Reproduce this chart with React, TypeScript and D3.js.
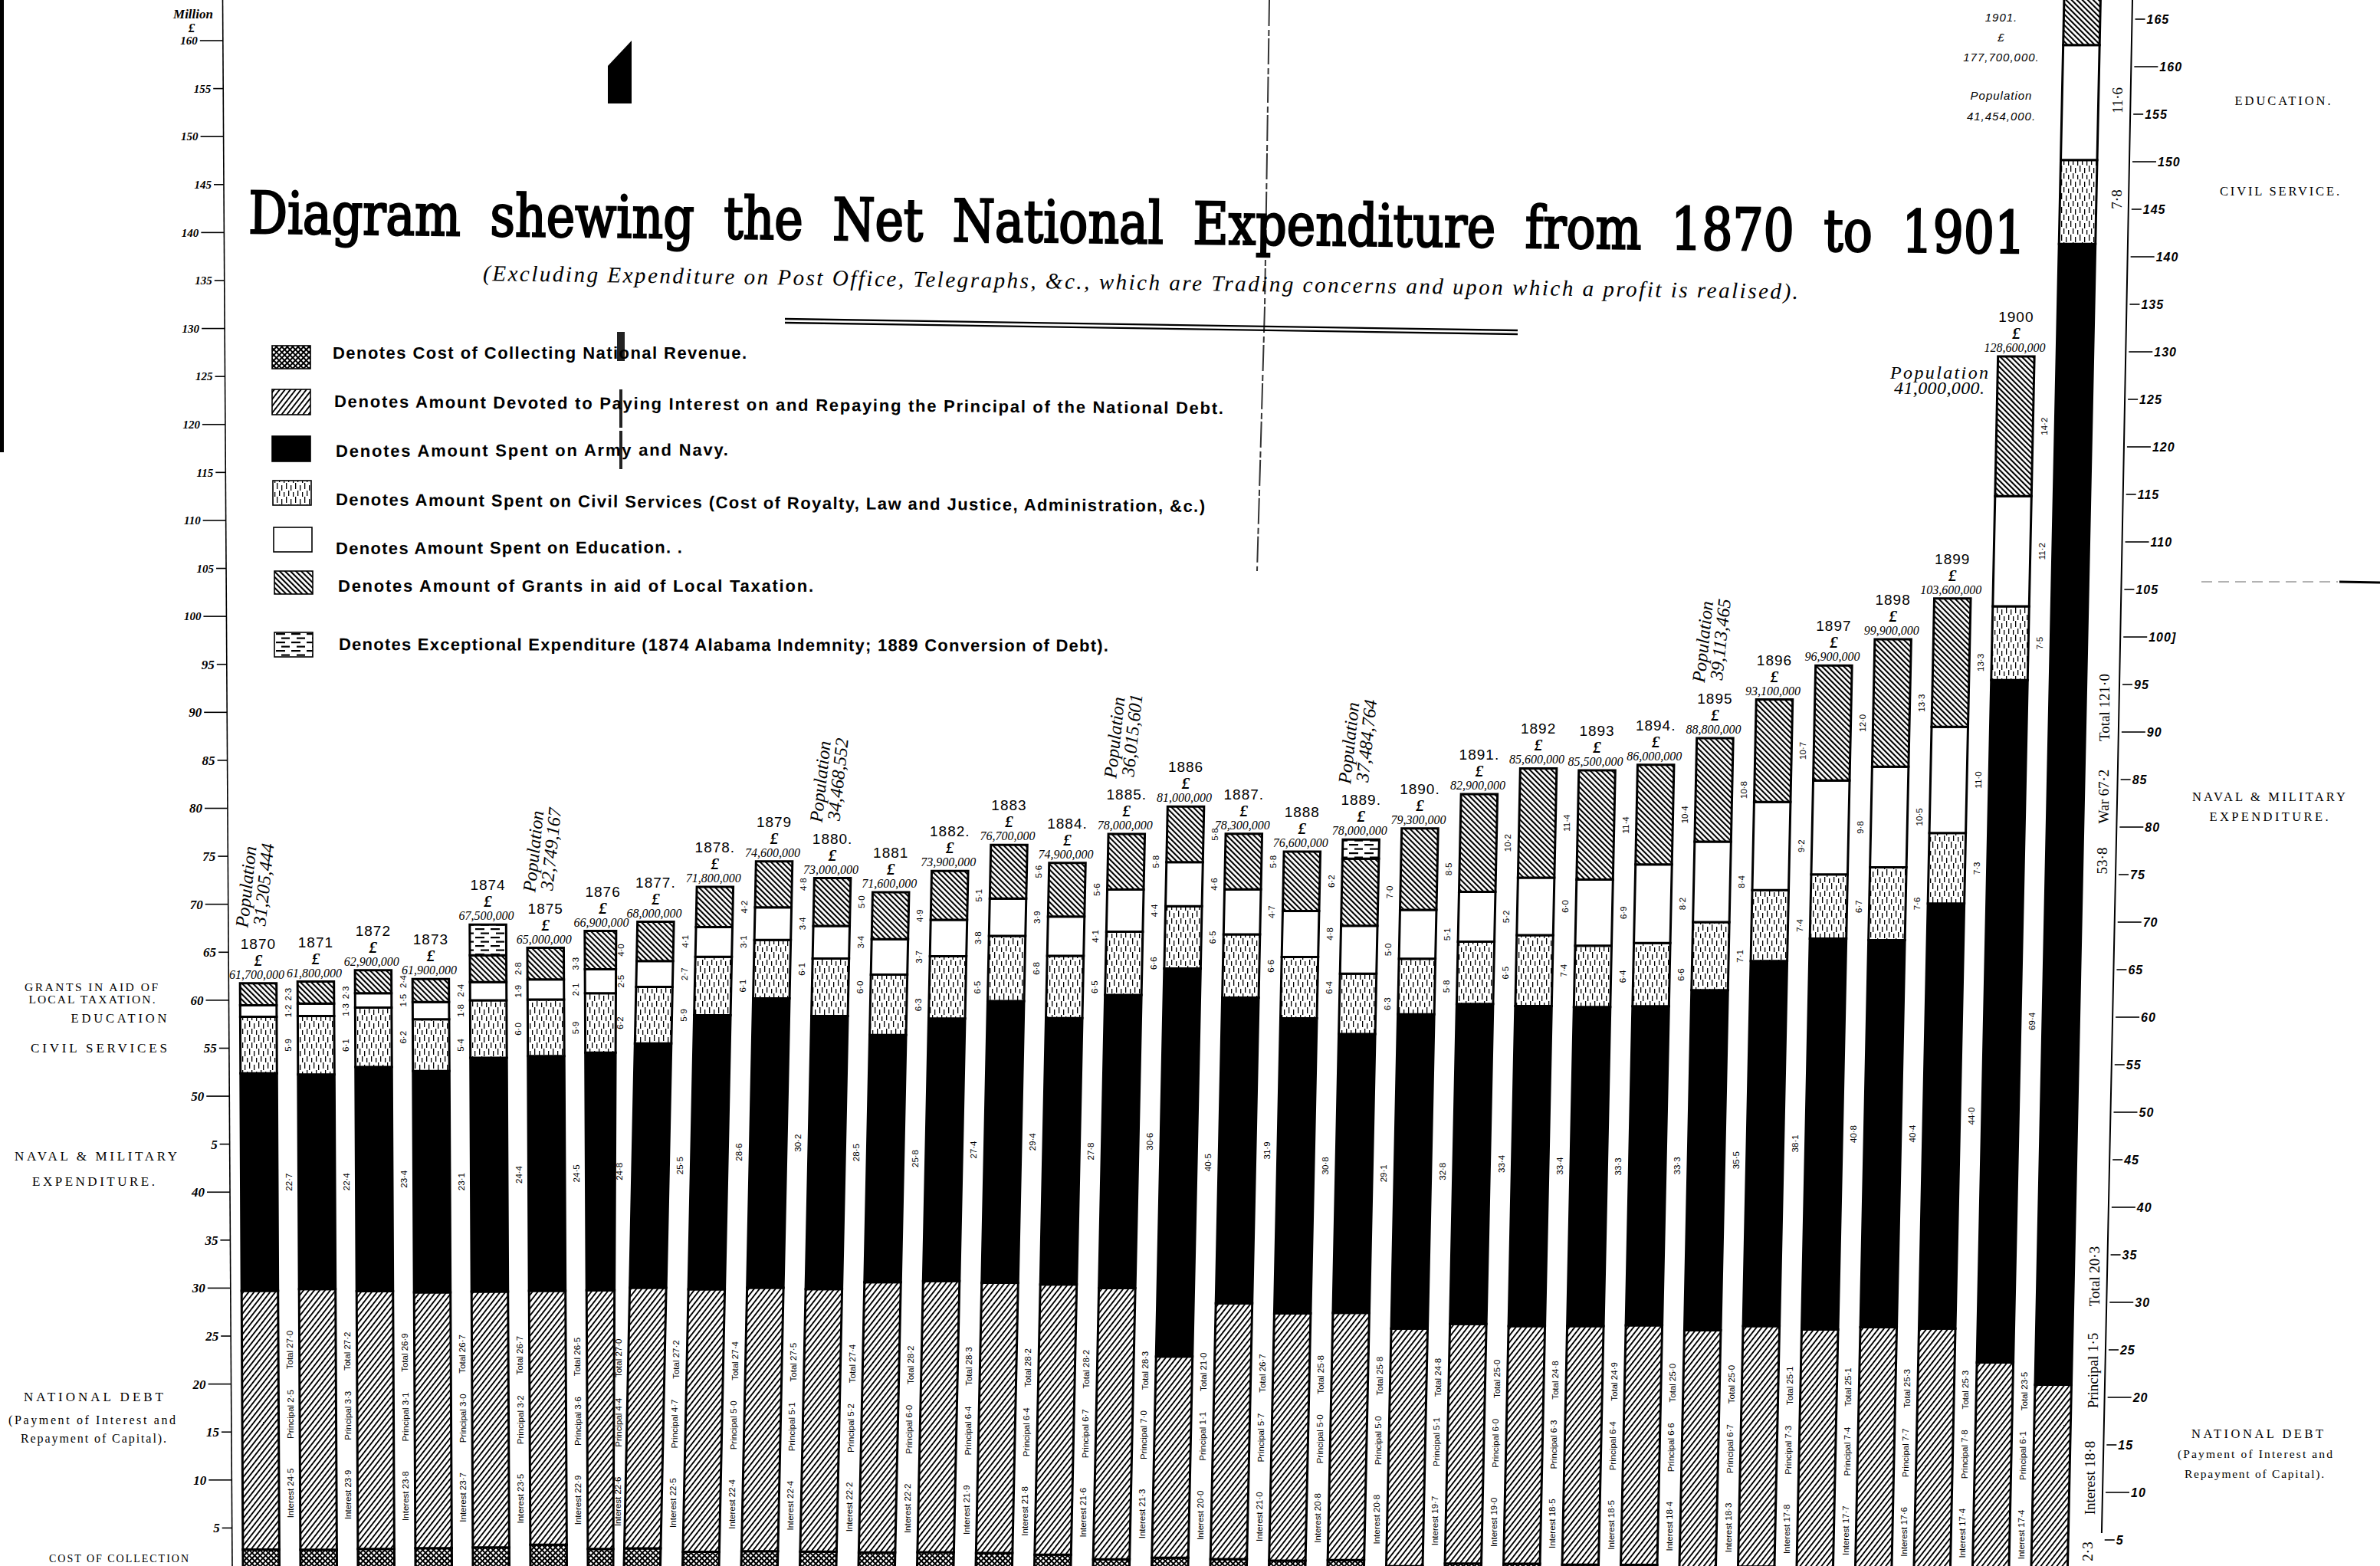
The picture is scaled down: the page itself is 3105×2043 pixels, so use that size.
import * as d3 from "d3";

// Net national expenditure, millions of pounds, 1870-1901
const years = d3.range(1870, 1902);
const yearLabels = ["1870", "1871", "1872", "1873", "1874", "1875", "1876", "1877.", "1878.", "1879", "1880.", "1881", "1882.", "1883", "1884.", "1885.", "1886", "1887.", "1888", "1889.", "1890.", "1891.", "1892", "1893", "1894.", "1895", "1896", "1897", "1898", "1899", "1900"];
const totals = [61.7, 61.8, 62.9, 61.9, 67.5, 65.0, 66.9, 68.0, 71.8, 74.6, 73.0, 71.6, 73.9, 76.7, 74.9, 78.0, 81.0, 78.3, 76.6, 78.0, 79.3, 82.9, 85.6, 85.5, 86.0, 88.8, 93.1, 96.9, 99.9, 103.6, 128.6, 177.7];
const cost = [2.6, 2.5, 2.5, 2.5, 2.5, 2.7, 2.4, 2.6, 2.4, 2.6, 2.7, 2.7, 2.8, 2.8, 2.7, 2.3, 2.6, 2.6, 2.6, 2.8, 2.3, 2.6, 2.6, 2.5, 2.5, 2.0, 2.6, 2.5, 2.8, 2.7, 2.8, 2.1];
const debt = [27.0, 27.2, 26.9, 26.7, 26.7, 26.5, 27.0, 27.2, 27.4, 27.5, 27.4, 28.2, 28.3, 28.2, 28.2, 28.3, 21.0, 26.7, 25.8, 25.8, 24.8, 25.0, 24.8, 24.9, 25.0, 25.0, 25.1, 25.1, 25.3, 25.3, 23.5, 20.3];
const interest = [24.5, 23.9, 23.8, 23.7, 23.5, 22.9, 22.6, 22.5, 22.4, 22.4, 22.2, 22.2, 21.9, 21.8, 21.6, 21.3, 20.0, 21.0, 20.8, 20.8, 19.7, 19.0, 18.5, 18.5, 18.4, 18.3, 17.8, 17.7, 17.6, 17.4, 17.4];
const principal = [2.5, 3.3, 3.1, 3.0, 3.2, 3.6, 4.4, 4.7, 5.0, 5.1, 5.2, 6.0, 6.4, 6.4, 6.7, 7.0, 1.1, 5.7, 5.0, 5.0, 5.1, 6.0, 6.3, 6.4, 6.6, 6.7, 7.3, 7.4, 7.7, 7.8, 6.1];
const army = [22.7, 22.4, 23.4, 23.1, 24.4, 24.5, 24.8, 25.5, 28.6, 30.2, 28.5, 25.8, 27.4, 29.4, 27.8, 30.6, 40.5, 31.9, 30.8, 29.1, 32.8, 33.4, 33.4, 33.3, 33.3, 35.5, 38.1, 40.8, 40.4, 44.0, 69.4, 121.0];
const civil = [5.9, 6.1, 6.2, 5.4, 6.0, 5.9, 6.2, 5.9, 6.1, 6.1, 6.0, 6.3, 6.5, 6.8, 6.5, 6.6, 6.5, 6.6, 6.4, 6.3, 5.8, 6.5, 7.4, 6.4, 6.6, 7.1, 7.4, 6.7, 7.6, 7.3, 7.5, 8.9];
const education = [1.2, 1.3, 1.5, 1.8, 1.9, 2.1, 2.5, 2.7, 3.1, 3.4, 3.4, 3.7, 3.8, 3.9, 4.1, 4.4, 4.6, 4.7, 4.8, 5.0, 5.1, 5.2, 6.0, 6.9, 8.2, 8.4, 9.2, 9.8, 10.5, 11.0, 11.2, 12.2];
const grants = [2.3, 2.3, 2.4, 2.4, 2.8, 3.3, 4.0, 4.1, 4.2, 4.8, 5.0, 4.9, 5.1, 5.6, 5.6, 5.8, 5.8, 5.8, 6.2, 7.0, 8.5, 10.2, 11.4, 11.4, 10.4, 10.8, 10.7, 12.0, 13.3, 13.3, 14.2, 15.1];
const exceptionalYears = [1874, 1889];
const exceptionalValues = [3.2, 2.0];

const populationYears = [1870, 1875, 1880, 1885, 1889, 1895];
const populationLabels = ["31,205,444", "32,749,167", "34,468,552", "36,015,601", "37,484,764", "39,113,465"];

const legendLabels = [
  "Denotes Cost of Collecting National Revenue.",
  "Denotes Amount Devoted to Paying Interest on and Repaying the Principal of the National Debt.",
  "Denotes Amount Spent on Army and Navy.",
  "Denotes Amount Spent on Civil Services (Cost of Royalty, Law and Justice, Administration, &c.)",
  "Denotes Amount Spent on Education. .",
  "Denotes Amount of Grants in aid of Local Taxation.",
  "Denotes Exceptional Expenditure (1874 Alabama Indemnity; 1889 Conversion of Debt).",
];
const legendFills = ["url(#cost)", "url(#debt)", "#000", "url(#civil)", "#fff", "url(#grants)", "url(#exceptional)"];
const legendLayout = [
  { x: 355, y: 451, h: 30, tx: 434, ty: 468, len: 540, tilt: 0 },
  { x: 355, y: 508, h: 33, tx: 436, ty: 531, len: 1160, tilt: 0.45 },
  { x: 355, y: 569, h: 33, tx: 438, ty: 596, len: 512, tilt: -0.2 },
  { x: 356, y: 627, h: 32, tx: 438, ty: 659, len: 1134, tilt: 0.45 },
  { x: 357, y: 688, h: 32, tx: 438, ty: 723, len: 452, tilt: -0.2 },
  { x: 358, y: 745, h: 30, tx: 441, ty: 772, len: 620, tilt: 0 },
  { x: 358, y: 825, h: 32, tx: 442, ty: 848, len: 1004, tilt: 0.1 },
];

const sideNotes = [
  { text: "GRANTS IN AID OF", x: 119, y: 1293, size: 15.5, w: 174 },
  { text: "LOCAL TAXATION.", x: 120, y: 1309, size: 15.5, w: 165 },
  { text: "EDUCATION", x: 155, y: 1334, size: 16.5, w: 125 },
  { text: "CIVIL SERVICES", x: 129, y: 1373, size: 17, w: 178 },
  { text: "NAVAL & MILITARY", x: 125, y: 1514, size: 17, w: 212 },
  { text: "EXPENDITURE.", x: 122, y: 1547, size: 17, w: 160 },
  { text: "NATIONAL DEBT", x: 122, y: 1828, size: 17, w: 182 },
  { text: "(Payment of Interest and", x: 120, y: 1858, size: 16, w: 218 },
  { text: "Repayment of Capital).", x: 122, y: 1882, size: 16, w: 190 },
  { text: "COST OF COLLECTION", x: 155, y: 2038, size: 14, w: 182 },
  { text: "EDUCATION.", x: 2978, y: 137, size: 16.5, w: 125 },
  { text: "CIVIL SERVICE.", x: 2974, y: 255, size: 16.5, w: 156 },
  { text: "NAVAL & MILITARY", x: 2960, y: 1045, size: 16.5, w: 200 },
  { text: "EXPENDITURE.", x: 2960, y: 1071, size: 16.5, w: 155 },
  { text: "NATIONAL DEBT", x: 2945, y: 1876, size: 16.5, w: 172 },
  { text: "(Payment of Interest and", x: 2942, y: 1902, size: 15.5, w: 202 },
  { text: "Repayment of Capital).", x: 2941, y: 1928, size: 15.5, w: 182 },
];

const bigBarNotes = [
  { text: "11·6", x: 2762, y: 131 },
  { text: "7·8", x: 2761, y: 260 },
  { text: "Total 121·0", x: 2745, y: 923 },
  { text: "War 67·2", x: 2744, y: 1039 },
  { text: "53·8", x: 2742, y: 1123 },
  { text: "Total 20·3", x: 2732, y: 1665 },
  { text: "Principal 1·5", x: 2730, y: 1788 },
  { text: "Interest 18·8", x: 2726, y: 1928 },
  { text: "2·3", x: 2723, y: 2024 },
];

const keys = ["cost", "debt", "army", "civil", "education", "grants", "exceptional"];
const fills: Record<string, string> = { cost: "url(#cost)", debt: "url(#debt)", army: "#000", civil: "url(#civil)", education: "#fff", grants: "url(#grants)", exceptional: "url(#exceptional)" };

const rows = years.map((year, i) => ({
  year,
  cost: cost[i],
  debt: debt[i],
  army: army[i],
  civil: civil[i],
  education: education[i],
  grants: grants[i],
  exceptional: exceptionalYears.includes(year) ? exceptionalValues[exceptionalYears.indexOf(year)] : 0,
}));
const stacked = d3.stack<any>().keys(keys)(rows);

const W = 3105;
const H = 2043;
const barW = 47.5;
const creaseYear = 1876; // this bar runs into the fold of the sheet

// the sheet was scanned warped, so the baseline, unit and lean drift from year to year
const baseY = d3.scaleLinear().domain([1870, 1875, 1880, 1885, 1890, 1895, 1899, 1900, 1901]).range([2054, 2049, 2058, 2063, 2072, 2073, 2086, 2115, 2082]);
const unit = d3.scaleLinear().domain([1870, 1898, 1899, 1900, 1901]).range([12.5, 12.5, 12.6, 12.83, 12.3]);
const bottomX = d3.scaleLinear().domain([1870, 1876, 1877, 1901]).range([317, 767, 814, 2650]);
const lean = d3.scaleThreshold<number, number>().domain([1877]).range([-0.005, 0.021]);
const creaseWidth = d3.scaleLinear().domain([1212, H]).range([41, 33]);

const yAt = (year: number, v: number) => baseY(year) - v * unit(year);
const xAt = (year: number, y: number) => bottomX(year) + lean(year) * (H - y);
const widthAt = (year: number, y: number) => (year === creaseYear ? creaseWidth(y) : barW);
const gapX = (year: number, y: number) => xAt(year, y) + widthAt(year, y) + (year === creaseYear ? 6 : 15);

const leftY = d3.scaleLinear().domain([0, 160]).range([2056, 53]);
const rightY = d3.scaleLinear().domain([0, 165]).range([2071, 25]);
const leftAxisX = d3.scaleLinear().domain([0, H]).range([290.5, 303]);
const rightAxisX = d3.scaleLinear().domain([0, 1000, H]).range([2782, 2763, 2741]);
const leftTicks = d3.range(5, 165, 5);
const rightTicks = d3.range(5, 170, 5);
const leftTickText = (v: number) => (v === 45 ? "5" : String(v));
const rightTickText = (v: number) => (v === 100 ? "100]" : String(v));

const line = d3.line();
const fmtM = (v: number) => v.toFixed(1).replace(".", "·");
const fmtMoney = d3.format(",");

const SERIF = "'Liberation Serif', serif";
const SANS = "'Liberation Sans', sans-serif";
const NARROW = "'Liberation Sans Narrow', 'Liberation Sans', sans-serif";

function Vertical({ x, y, children, size = 11.5, family = SANS, weight = 400 }: any) {
  return (
    <text transform={`translate(${x},${y}) rotate(-90)`} textAnchor="middle" dy="0.35em" fontSize={size} fontFamily={family} fontWeight={weight} fill="#000">
      {children}
    </text>
  );
}

export default function App() {
  return (
    <svg width={W} height={H} viewBox={`0 0 ${W} ${H}`} style={{ position: "absolute", left: 0, top: 0, display: "block", background: "#fff" }}>
      <defs>
        <pattern id="debt" width="5.5" height="5.5" patternUnits="userSpaceOnUse" patternTransform="rotate(38)">
          <rect width="5.5" height="5.5" fill="#fff" />
          <rect width="1.9" height="5.5" fill="#000" />
        </pattern>
        <pattern id="grants" width="5" height="5" patternUnits="userSpaceOnUse" patternTransform="rotate(-45)">
          <rect width="5" height="5" fill="#fff" />
          <rect width="2.1" height="5" fill="#000" />
        </pattern>
        <pattern id="cost" width="5" height="5" patternUnits="userSpaceOnUse" patternTransform="rotate(45)">
          <rect width="5" height="5" fill="#000" />
          <rect x="1" y="1" width="3" height="3" fill="#fff" />
        </pattern>
        <pattern id="civil" width="12" height="18" patternUnits="userSpaceOnUse">
          <rect width="12" height="18" fill="#fff" />
          <rect x="1" y="0" width="1.3" height="8" fill="#000" />
          <rect x="7" y="3" width="1.3" height="7" fill="#000" />
          <rect x="4" y="10" width="1.3" height="7" fill="#000" />
          <rect x="10" y="12" width="1.3" height="6" fill="#000" />
        </pattern>
        <pattern id="exceptional" width="20" height="11" patternUnits="userSpaceOnUse">
          <rect width="20" height="11" fill="#fff" />
          <rect x="0" y="1" width="12" height="2.2" fill="#000" />
          <rect x="7" y="6.5" width="11" height="2.2" fill="#000" />
        </pattern>
      </defs>
      <rect width={W} height={H} fill="#fff" />

      {/* scan marks */}
      <rect x="0" y="0" width="5" height="590" fill="#000" />
      <path d={line([[793, 86], [824, 53], [824, 135], [793, 135]])! + "Z"} fill="#000" />
      <rect x="805" y="433" width="10" height="38" fill="#222" />
      <path d={line([[810, 508], [810, 615]])!} stroke="#222" strokeWidth="4" strokeDasharray="50 4" />
      <path d={line([[1656, 0], [1650, 400], [1640, 745]])!} stroke="#333" strokeWidth="2" strokeDasharray="34 5 8 3" fill="none" />
      <path d={line([[2872, 759], [3050, 759]])!} stroke="#999" strokeWidth="1.5" strokeDasharray="14 8" />
      <path d={line([[3052, 759], [W, 760]])!} stroke="#000" strokeWidth="3" />

      {/* title block */}
      <text transform="translate(324,304) rotate(0.65)" fontFamily="'DejaVu Serif Condensed','DejaVu Serif',serif" fontWeight="400" fontSize="76" textLength="2318" lengthAdjust="spacingAndGlyphs" wordSpacing="20" fill="#000" stroke="#000" strokeWidth="2.4">
        Diagram shewing the Net National Expenditure from 1870 to 1901
      </text>
      <text transform="translate(630,366) rotate(0.8)" fontFamily={SERIF} fontStyle="italic" fontSize="29" textLength="1716" lengthAdjust="spacing" fill="#000">
        (Excluding Expenditure on Post Office, Telegraphs, &amp;c., which are Trading concerns and upon which a profit is realised).
      </text>
      <path d={line([[1024, 416], [1980, 431]])!} stroke="#000" strokeWidth="2.4" />
      <path d={line([[1024, 421], [1980, 436]])!} stroke="#000" strokeWidth="2.4" />

      {/* legend */}
      {legendLabels.map((label, i) => {
        const l = legendLayout[i];
        return (
          <g key={label}>
            <rect x={l.x} y={l.y} width={50} height={l.h} fill={legendFills[i]} stroke="#000" strokeWidth="1.6" />
            <text transform={`translate(${l.tx},${l.ty}) rotate(${l.tilt})`} fontFamily={NARROW} fontSize="22" fontWeight="700" textLength={l.len} lengthAdjust="spacing" fill="#000">
              {label}
            </text>
          </g>
        );
      })}

      {/* axes */}
      <path d={line([[leftAxisX(0), 0], [leftAxisX(H), H]])!} stroke="#000" strokeWidth="1.6" />
      <text x="252" y="24" textAnchor="middle" fontFamily={SERIF} fontStyle="italic" fontWeight="700" fontSize="17">Million</text>
      <text x="250" y="42" textAnchor="middle" fontFamily={SERIF} fontStyle="italic" fontWeight="700" fontSize="17">£</text>
      {leftTicks.map((v) => {
        const y = leftY(v);
        const x = leftAxisX(y);
        const len = v % 10 === 0 ? 30 : 13;
        return (
          <g key={v}>
            <path d={line([[x - len, y], [x, y]])!} stroke="#000" strokeWidth="1.6" />
            <text x={x - len - 3} y={y} dy="0.35em" textAnchor="end" fontFamily={SERIF} fontStyle="italic" fontWeight="700" fontSize={v >= 100 ? 15 : 17} fill="#000">
              {leftTickText(v)}
            </text>
          </g>
        );
      })}
      <path d={line(d3.range(0, H + 1, 100).map((y) => [rightAxisX(y), y] as [number, number]))!} stroke="#000" strokeWidth="2" fill="none" />
      {rightTicks.map((v) => {
        const y = rightY(v);
        const x = rightAxisX(y) + 4;
        const len = v % 10 === 0 ? 31 : 13;
        return (
          <g key={v}>
            <path d={line([[x, y], [x + len, y]])!} stroke="#000" strokeWidth="1.6" />
            <text x={x + len + 2} y={y} dy="0.35em" fontFamily={SANS} fontStyle="italic" fontWeight="700" fontSize="16" letterSpacing="1" fill="#000">
              {rightTickText(v)}
            </text>
          </g>
        );
      })}

      {/* bars */}
      {stacked.map((series) =>
        series.map((d) => {
          const year = d.data.year as number;
          if (d[1] - d[0] <= 0) return null;
          const y0 = yAt(year, d[0]);
          const y1 = yAt(year, d[1]);
          const outline: [number, number][] = [
            [xAt(year, y0), y0],
            [xAt(year, y0) + widthAt(year, y0), y0],
            [xAt(year, y1) + widthAt(year, y1), y1],
            [xAt(year, y1), y1],
          ];
          return <path key={series.key + year} d={line(outline)! + "Z"} fill={fills[series.key]} stroke="#000" strokeWidth="3" />;
        })
      )}

      {/* figures printed beside each bar */}
      {stacked.map((series) =>
        series.map((d) => {
          const year = d.data.year as number;
          if (year === 1901 || ["cost", "debt", "exceptional"].includes(series.key)) return null;
          const y = (yAt(year, d[0]) + yAt(year, d[1])) / 2;
          return (
            <Vertical key={series.key + year} x={gapX(year, y)} y={y}>
              {fmtM(d[1] - d[0])}
            </Vertical>
          );
        })
      )}
      {years.slice(0, 31).map((year, i) => {
        const drift = (year - 1870) * 1.8;
        const parts: [string, number][] = [
          [`Total ${fmtM(debt[i])}`, 1761 + drift],
          [`Principal ${fmtM(principal[i])}`, 1845 + drift],
          [`Interest ${fmtM(interest[i])}`, 1948 + drift],
        ];
        return parts.map(([label, y]) => (
          <Vertical key={label + year} x={gapX(year, y)} y={y}>
            {label}
          </Vertical>
        ));
      })}
      {bigBarNotes.map((n) => (
        <Vertical key={n.text} x={n.x} y={n.y} size={19} family={SERIF}>
          {n.text}
        </Vertical>
      ))}

      {/* year, pound sign and amount on top of each bar */}
      {yearLabels.map((label, i) => {
        const year = years[i];
        const top = yAt(year, d3.sum(keys, (k) => (rows[i] as any)[k]));
        const cx = xAt(year, top) + barW / 2;
        return (
          <g key={label} textAnchor="middle" fill="#000">
            <text x={cx} y={top - 45} fontFamily={SANS} fontSize="19" letterSpacing="1">{label}</text>
            <text x={cx} y={top - 23} fontFamily={SERIF} fontStyle="italic" fontWeight="700" fontSize="21">£</text>
            <text x={cx - 2} y={top - 6} fontFamily={SERIF} fontStyle="italic" fontSize="16">{fmtMoney(totals[i] * 1e6)}</text>
          </g>
        );
      })}
      <g textAnchor="middle" fill="#000" fontFamily={SANS} fontStyle="italic" fontSize="15" letterSpacing="1">
        <text x="2611" y="28">1901.</text>
        <text x="2611" y="54">£</text>
        <text x="2611" y="80">177,700,000.</text>
        <text x="2611" y="130">Population</text>
        <text x="2611" y="157">41,454,000.</text>
      </g>

      {/* population */}
      {populationYears.map((year, i) => {
        const top = yAt(year, totals[year - 1870]);
        const cx = xAt(year, top) + barW / 2;
        const mid = top - 125;
        return (
          <g key={year} fill="#000" fontFamily={SERIF} fontStyle="italic" fontSize="24" textAnchor="middle">
            <text transform={`translate(${cx - 8},${mid}) rotate(-84)`}>Population</text>
            <text transform={`translate(${cx + 15},${mid - 3}) rotate(-84)`}>{populationLabels[i]}</text>
          </g>
        );
      })}
      <g fill="#000" fontFamily={SERIF} fontStyle="italic" fontSize="24" textAnchor="middle">
        <text x="2530" y="494" textLength="128" lengthAdjust="spacing">Population</text>
        <text x="2530" y="514" textLength="118" lengthAdjust="spacing">41,000,000.</text>
      </g>

      {/* side notes */}
      {sideNotes.map((n) => (
        <text key={n.text + n.x} x={n.x} y={n.y} textAnchor="middle" fontFamily={SERIF} fontSize={n.size} textLength={n.w} lengthAdjust="spacing" fill="#000">
          {n.text}
        </text>
      ))}
    </svg>
  );
}
